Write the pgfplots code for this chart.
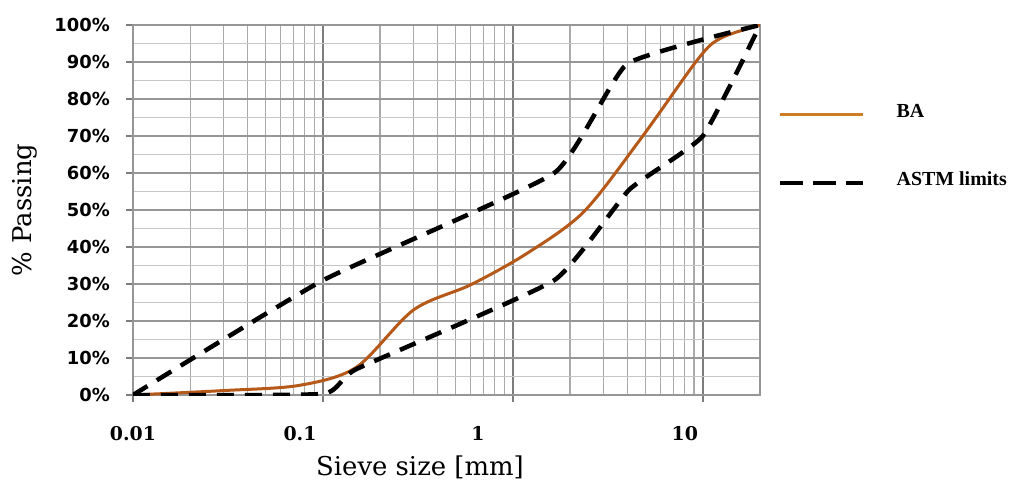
\documentclass[border=0pt]{standalone}
\usepackage{fontspec}
\setmainfont{DejaVu Serif}
\newfontfamily\sansf{DejaVu Sans}
\newfontfamily\legf{Liberation Serif}
\usepackage{pgfplots}
\pgfplotsset{compat=1.18}
\definecolor{bacol}{RGB}{181,88,24}
\definecolor{balegend}{RGB}{205,125,35}
\definecolor{gridxmaj}{RGB}{125,125,125}
\definecolor{gridxmin}{RGB}{170,170,170}
\definecolor{gridymaj}{RGB}{150,150,150}
\definecolor{gridymin}{RGB}{198,198,198}
\begin{document}
\begin{tikzpicture}
\begin{axis}[
  at={(0,0)}, anchor=south west,
  scale only axis, width=627bp, height=370bp,
  xmode=log, xmin=0.01, xmax=20, ymin=0, ymax=100,
  xtick={0.01,0.1,1,10}, xticklabels={,,,},
  minor xtick={0.02,0.03,0.04,0.05,0.06,0.07,0.08,0.09,0.2,0.3,0.4,0.5,0.6,0.7,0.8,0.9,2,3,4,5,6,7,8,9,20},
  extra x ticks={0.01,0.0757,0.655,8.04},
  extra x tick labels={0.01,0.1,1,10},
  extra x tick style={grid=none, major tick length=0pt,
     xticklabel style={anchor=base, yshift=-45bp}},
  xticklabel style={font=\bfseries\fontsize{19}{21}\selectfont, inner sep=0pt},
  ytick={0,10,...,100}, minor y tick num=1,
  yticklabels={0\%,10\%,20\%,30\%,40\%,50\%,60\%,70\%,80\%,90\%,100\%},
  yticklabel style={font=\sansf\bfseries\fontsize{18}{20}\selectfont, inner sep=0pt, anchor=east, xshift=-16bp},
  grid=both,
  major x grid style={gridxmaj, line width=1.5bp},
  minor x grid style={gridxmin, line width=1.3bp},
  major y grid style={gridymaj, line width=1.4bp},
  minor y grid style={gridymin, line width=1.2bp},
  axis line style={gridymaj, line width=1.4bp},
  tick style={gridxmaj, line width=1.4bp},
  major tick length=7bp, minor tick length=0pt,
  tick align=outside, tick pos=left,
  xlabel={Sieve size [mm]}, ylabel={\% Passing},
  every axis x label/.style={at={(axis description cs:0.4577,0)}, anchor=base, yshift=-80bp, font=\fontsize{26}{30}\selectfont},
  every axis y label/.style={at={(axis description cs:-0.1722,0.5)}, rotate=90, anchor=center, font=\fontsize{26}{30}\selectfont},
  legend style={draw=none, fill=none, at={(rel axis cs:1.0239,0.665)}, anchor=west,
     font=\legf\bfseries\fontsize{20}{22}\selectfont,
     nodes={inner sep=0pt, text height=10bp, text depth=4bp},
     row sep=54bp, cells={anchor=west},
     /tikz/every odd column/.append style={column sep=31bp}},
  legend image code/.code={\draw[#1] (0bp,0bp) -- (83bp,0bp);},
]
\addplot[bacol, line width=3bp, smooth, tension=0.5, forget plot] coordinates {
 (0.01,0) (0.03,1.2) (0.075,2.6) (0.15,7.5) (0.3,23) (0.6,29.8) (1.18,38.2)
 (2.36,49.5) (4.75,69.5) (9.5,91) (12.5,96.5) (20,100)};
\addplot[black, line width=4.5bp, dash pattern=on 17bp off 11bp, smooth, tension=0.25, forget plot] coordinates {
 (0.01,0) (0.1,31) (1.65,60) (4.0,89.5) (20,100)};
\addplot[black, line width=4.5bp, dash pattern=on 17bp off 11bp, smooth, tension=0.25, forget plot] coordinates {
 (0.01,0) (0.1,0.3) (0.15,7) (1.65,31) (4.1,55.5) (10,70) (20,100)};
\addlegendimage{balegend, line width=3bp}
\addlegendentry{BA}
\addlegendimage{black, line width=4.5bp, dash pattern=on 23bp off 10bp}
\addlegendentry{ASTM limits}
\end{axis}
\pgfresetboundingbox
\useasboundingbox (-133bp,-85bp) rectangle (878bp,395bp);
\end{tikzpicture}
\end{document}
